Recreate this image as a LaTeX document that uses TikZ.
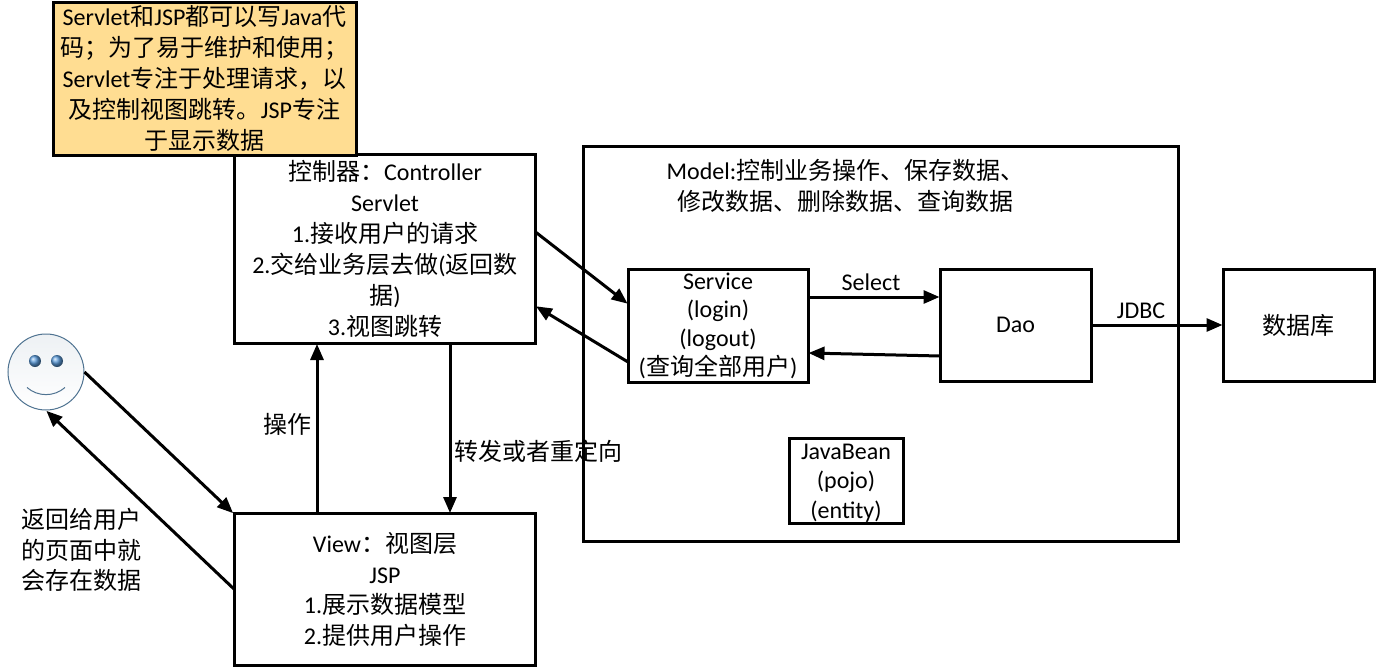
\documentclass[tikz,border=0pt]{standalone}
\usepackage{fontspec}
\setmainfont{Carlito}
\newfontfamily\cjkface{Noto Sans CJK SC}
\newcommand{\zh}[1]{{\cjkface #1}}
\usetikzlibrary{arrows.meta,shadings}
\definecolor{notefill}{HTML}{FFDD92}
\definecolor{faceline}{HTML}{4F7391}
\definecolor{eyeblue}{HTML}{5A9ADA}
\newcommand{\lines}[1]{\fontsize{24}{#1}\selectfont}
\tikzset{
  base/.style={inner sep=0pt,outer sep=0pt,align=center,font=\lines{30.5}},
  box/.style={base,draw=black,line width=3pt},
  label/.style={base},
  link/.style={line width=3pt,-{Triangle[length=16pt,width=13pt]},shorten >=0.5pt},
  eye/.style={circle,inner sep=0pt,minimum size=12pt,ball color=eyeblue,draw=none},
}
\begin{document}
\begin{tikzpicture}[x=1pt,y=-1pt]
\useasboundingbox (0,0) rectangle (1378,669);

% Boxes
\node[box,font=\lines{31},minimum width=301pt,minimum height=189pt] (ctrl) at (385,249)
  {\zh{控制器：}Controller\\Servlet\\1.\zh{接收用户的请求}\\2.\zh{交给业务层去做}(\zh{返回数}\\\zh{据})\\3.\zh{视图跳转}};
\node[box,font=\lines{31},fill=notefill,minimum width=303pt,minimum height=152pt] (note) at (204.5,79)
  {Servlet\zh{和}JSP\zh{都可以写}Java\zh{代}\\\zh{码；为了易于维护和使用；}\\Servlet\zh{专注于处理请求，以}\\\zh{及控制视图跳转。}JSP\zh{专注}\\\zh{于显示数据}};
\node[box,minimum width=301pt,minimum height=152pt] (view) at (385,589.5)
  {View\zh{：视图层}\\JSP\\1.\zh{展示数据模型}\\2.\zh{提供用户操作}};
\node[box,minimum width=595pt,minimum height=395pt] (model) at (880.5,343.5) {};
\node[box,font=\lines{28.8},minimum width=180pt,minimum height=113pt] (service) at (718,325.5)
  {\rule{0pt}{17pt}Service\\(login)\\(logout)\\(\zh{查询全部用户})};
\node[box,minimum width=151pt,minimum height=112pt] (dao) at (1015.5,325) {Dao};
\node[box,minimum width=151pt,minimum height=112pt] (db) at (1298.5,325) {\zh{数据库}};
\node[box,font=\lines{29.5},minimum width=114pt,minimum height=85pt] (bean) at (846,480.5)
  {\rule{0pt}{20pt}JavaBean\\(pojo)\\(entity)};

% Smiley face
\node[circle,draw=faceline,line width=1pt,minimum size=76pt,inner sep=0pt,
      top color=faceline!10,bottom color=white] (face) at (46,372) {};
\node[eye] (eyeL) at (35,361) {};
\node[eye] (eyeR) at (57,361) {};
\draw[faceline,line width=1pt] (27,387.5) .. controls (38,397) and (54,397) .. (65,387.5);

% Free-standing labels
\node[label] (modeltext) at (845.5,186)
  {Model:\zh{控制业务操作、保存数据、}\\\zh{修改数据、删除数据、查询数据}};
\node[label] (selecttext) at (871,282) {Select};
\node[label] (jdbctext) at (1141,311) {JDBC};
\node[label] (optext) at (287,424) {\zh{操作}};
\node[label] (fwdtext) at (538,451) {\zh{转发或者重定向}};
\node[label] (backtext) at (81,550) {\zh{返回给用户}\\\zh{的页面中就}\\\zh{会存在数据}};

% Connectors
\draw[link] (face.east) -- ([xshift=-1pt]view.north west);
\draw[link] (view.west) -- (face.south);
\draw[link] ([xshift=-68pt]view.north) -- ([xshift=-68pt]ctrl.south);
\draw[link] ([xshift=65pt]ctrl.south) -- ([xshift=65pt]view.north);
\draw[link] ([yshift=17pt]ctrl.east) -- ([yshift=21.5pt]service.west);
\draw[link] ([yshift=-36.5pt]service.west) -- ([yshift=-57pt]ctrl.east);
\draw[link] ([yshift=28.5pt]service.east) -- ([yshift=28pt]dao.west);
\draw[link] ([yshift=-31pt]dao.west) -- ([yshift=-27.5pt]service.east);
\draw[link] (dao.east) -- (db.west);
\end{tikzpicture}
\end{document}
